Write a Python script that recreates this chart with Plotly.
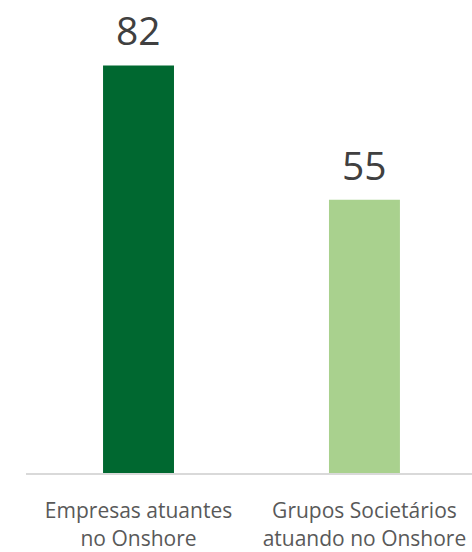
import plotly.graph_objects as go

categories = ["Empresas atuantes<br>no Onshore", "Grupos Societários<br>atuando no Onshore"]
values = [82, 55]
colors = ["#006830", "#A9D18E"]

fig = go.Figure(go.Bar(
    x=categories,
    y=values,
    marker=dict(color=colors, line=dict(width=0)),
    width=0.314,
    cliponaxis=False,
    hoverinfo="skip",
))

for c, v in zip(categories, values):
    fig.add_annotation(
        x=c, y=v, text=str(v), showarrow=False,
        xanchor="center", yanchor="bottom", yshift=7,
        font=dict(family="Open Sans", size=39, color="#404040"),
    )

fig.update_layout(
    width=472, height=552,
    margin=dict(l=26, r=0, t=38, b=79),
    paper_bgcolor="white", plot_bgcolor="white",
    showlegend=False,
    font=dict(family="Open Sans"),
)
fig.update_xaxes(
    range=[-0.498, 1.476],
    automargin=False,
    showline=True, linecolor="#D9D9D9", linewidth=2,
    showgrid=False, zeroline=False,
    ticks="outside", ticklen=18, tickcolor="rgba(0,0,0,0)",
    tickfont=dict(family="Open Sans", size=21, color="#595959"),
)
fig.update_yaxes(
    range=[0, 87.53], visible=False, showgrid=False, zeroline=False,
    automargin=False,
)

fig.write_html(
    "out.html",
    config={"displayModeBar": False},
    post_script="document.body.style.margin='0';document.body.style.overflow='hidden';",
)
